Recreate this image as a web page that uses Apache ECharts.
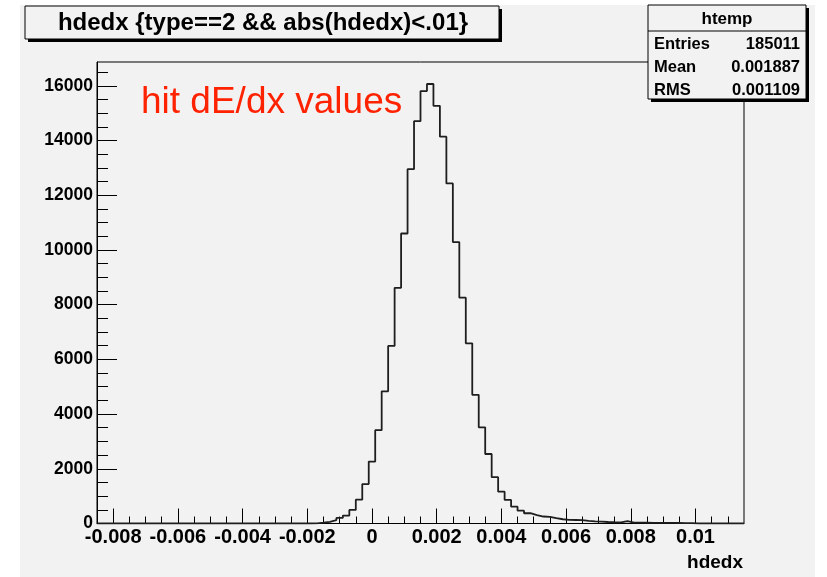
<!DOCTYPE html>
<html>
<head>
<meta charset="utf-8">
<title>hdedx</title>
<script src="https://cdn.jsdelivr.net/npm/echarts@6/dist/echarts.min.js"></script>
<style>
  html, body { margin: 0; padding: 0; background: #ffffff; }
  #chart { width: 827px; height: 577px; }
</style>
</head>
<body>
<div id="chart"></div>
<script>
// Histogram of hit dE/dx: 100 bins of width 0.0002 starting at -0.0085
const binFirstEdge = -0.0085;
const binWidth = 0.0002;
const counts = [
  0, 0, 0, 0, 0, 0, 0, 0, 0, 0,
  0, 0, 0, 0, 0, 0, 0, 0, 0, 0,
  0, 0, 0, 0, 0, 0, 0, 0, 0, 0,
  0, 0, 0, 8, 30, 62, 125, 205, 290, 495,
  870, 1440, 2265, 3410, 4830, 6490, 8615, 10600, 12950, 14705,
  15805, 16065, 15265, 14140, 12430, 10285, 8255, 6585, 4705, 3515,
  2540, 1695, 1165, 860, 615, 470, 375, 310, 255, 245,
  195, 155, 135, 128, 120, 95, 80, 72, 55, 45,
  42, 90, 35, 30, 28, 25, 25, 22, 20, 18,
  16, 15, 0, 0, 0, 0, 0, 0, 0, 0
];

// Axis ticks and labels
const xMajorTicks = [-0.008, -0.006, -0.004, -0.002, 0, 0.002, 0.004, 0.006, 0.008, 0.01];
const xTickLabels = ['-0.008', '-0.006', '-0.004', '-0.002', '0', '0.002', '0.004', '0.006', '0.008', '0.01'];
const xMinorTicks = [-0.0075, -0.007, -0.0065, -0.0055, -0.005, -0.0045, -0.0035, -0.003, -0.0025,
  -0.0015, -0.001, -0.0005, 0.0005, 0.001, 0.0015, 0.0025, 0.003, 0.0035, 0.0045, 0.005, 0.0055,
  0.0065, 0.007, 0.0075, 0.0085, 0.009, 0.0095, 0.0105, 0.011];
const yMajorTicks = [0, 2000, 4000, 6000, 8000, 10000, 12000, 14000, 16000];
const yTickLabels = ['0', '2000', '4000', '6000', '8000', '10000', '12000', '14000', '16000'];
const yMinorTicks = [500, 1000, 1500, 2500, 3000, 3500, 4500, 5000, 5500, 6500, 7000, 7500,
  8500, 9000, 9500, 10500, 11000, 11500, 12500, 13000, 13500, 14500, 15000, 15500, 16500];

// Text content
const titleText = 'hdedx {type==2 && abs(hdedx)<.01}';
const statsName = 'htemp';
const statsRows = [['Entries', '185011'], ['Mean', '0.001887'], ['RMS', '0.001109']];
const noteText = 'hit dE/dx values';
const xAxisTitle = 'hdedx';

const xMin = binFirstEdge;
const xMax = binFirstEdge + counts.length * binWidth;
const yMax = Math.max(...counts) * 1.05;

// step outline: one point per lower bin edge, plus the final upper edge
const outline = counts.map((c, i) => [binFirstEdge + i * binWidth, c]);
outline.push([xMax, counts[counts.length - 1]]);

const FONT = '"Liberation Sans", Arial, Helvetica, sans-serif';
const BG = '#f2f2f2';

function labelFor(values, labels) {
  return function (v) {
    for (let i = 0; i < values.length; i++) {
      if (Math.abs(values[i] - v) < 1e-12 || Math.abs(values[i] - v) < 1e-9 * Math.abs(v)) return labels[i];
    }
    return '';
  };
}

const gridBox = { left: 97, top: 62, right: 83, bottom: 53.5 };

const chart = echarts.init(document.getElementById('chart'), null, { renderer: 'canvas' });

const statsX = 648, statsY = 5, statsW = 158, statsH = 94;
const titleX = 25, titleY = 6, titleW = 474, titleH = 33;

const graphics = [
  // canvas fill
  { type: 'rect', z: -10, silent: true, shape: { x: 20, y: 5, width: 795, height: 572 }, style: { fill: BG } },
  // title pave with shadow
  { type: 'rect', z: 50, shape: { x: titleX + 3, y: titleY + 3, width: titleW, height: titleH }, style: { fill: '#000' } },
  { type: 'rect', z: 51, shape: { x: titleX, y: titleY, width: titleW, height: titleH }, style: { fill: BG, stroke: '#000', lineWidth: 1 } },
  { type: 'text', z: 52, style: { x: titleX + titleW / 2 + 1, y: titleY + titleH / 2 + 1, text: titleText, fill: '#000',
      font: 'bold 24px ' + FONT, align: 'center', verticalAlign: 'middle' } },
  // statistics box with shadow
  { type: 'rect', z: 50, shape: { x: statsX + 3, y: statsY + 3, width: statsW, height: statsH }, style: { fill: '#000' } },
  { type: 'rect', z: 51, shape: { x: statsX, y: statsY, width: statsW, height: statsH }, style: { fill: BG, stroke: '#000', lineWidth: 1 } },
  { type: 'line', z: 52, shape: { x1: statsX, y1: statsY + 26, x2: statsX + statsW, y2: statsY + 26 }, style: { stroke: '#000', lineWidth: 1 } },
  { type: 'text', z: 52, style: { x: statsX + statsW / 2, y: statsY + 14, text: statsName, fill: '#000',
      font: 'bold 17px ' + FONT, align: 'center', verticalAlign: 'middle' } },
  // annotation
  { type: 'text', z: 40, style: { x: 141, y: 103, text: noteText, fill: '#ff2200',
      font: '37px ' + FONT, align: 'left', verticalAlign: 'middle' } },
  // x axis title
  { type: 'text', z: 40, style: { x: 743, y: 563, text: xAxisTitle, fill: '#000',
      font: 'bold 19px ' + FONT, align: 'right', verticalAlign: 'middle' } }
];
statsRows.forEach((row, i) => {
  const y = statsY + 39 + i * 23;
  graphics.push({ type: 'text', z: 52, style: { x: statsX + 6, y: y, text: row[0], fill: '#000',
    font: 'bold 16.5px ' + FONT, align: 'left', verticalAlign: 'middle' } });
  graphics.push({ type: 'text', z: 52, style: { x: statsX + statsW - 6, y: y, text: row[1], fill: '#000',
    font: 'bold 16.5px ' + FONT, align: 'right', verticalAlign: 'middle' } });
});

const option = {
  backgroundColor: '#ffffff',
  animation: false,
  grid: Object.assign({ show: true, borderColor: '#000', borderWidth: 1, backgroundColor: 'transparent', z: 5 }, gridBox),
  xAxis: [
    {
      type: 'value', min: xMin, max: xMax, position: 'bottom',
      axisLine: { show: true, onZero: false, lineStyle: { color: '#000', width: 1 } },
      axisTick: { show: true, inside: true, length: 15, customValues: xMajorTicks, lineStyle: { color: '#000', width: 1 } },
      axisLabel: { show: true, customValues: xMajorTicks, formatter: labelFor(xMajorTicks, xTickLabels),
        color: '#000', fontFamily: FONT, fontWeight: 'bold', fontSize: 20, margin: 4 },
      splitLine: { show: false }
    },
    {
      type: 'value', min: xMin, max: xMax, position: 'bottom',
      axisLine: { show: false, onZero: false },
      axisTick: { show: true, inside: true, length: 7, customValues: xMinorTicks, lineStyle: { color: '#000', width: 1 } },
      axisLabel: { show: false },
      splitLine: { show: false }
    }
  ],
  yAxis: [
    {
      type: 'value', min: 0, max: yMax, position: 'left',
      axisLine: { show: true, onZero: false, lineStyle: { color: '#000', width: 1 } },
      axisTick: { show: true, inside: true, length: 20, customValues: yMajorTicks, lineStyle: { color: '#000', width: 1 } },
      axisLabel: { show: true, customValues: yMajorTicks, formatter: labelFor(yMajorTicks, yTickLabels),
        color: '#000', fontFamily: FONT, fontWeight: 'bold', fontSize: 17.5, margin: 4 },
      splitLine: { show: false }
    },
    {
      type: 'value', min: 0, max: yMax, position: 'left',
      axisLine: { show: false, onZero: false },
      axisTick: { show: true, inside: true, length: 11, customValues: yMinorTicks, lineStyle: { color: '#000', width: 1 } },
      axisLabel: { show: false },
      splitLine: { show: false }
    }
  ],
  series: [
    {
      type: 'line', name: 'hdedx', xAxisIndex: 0, yAxisIndex: 0,
      data: outline, step: 'end', showSymbol: false, symbol: 'none',
      lineStyle: { color: '#1e1e1e', width: 1.8 }, clip: true, z: 10
    }
  ],
  graphic: graphics
};

chart.setOption(option);
</script>
</body>
</html>
